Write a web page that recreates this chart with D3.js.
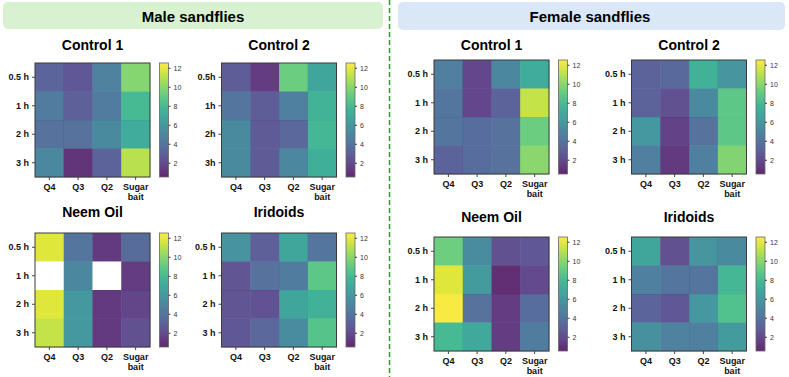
<!DOCTYPE html>
<html>
<head>
<meta charset="utf-8">
<script src="https://cdn.jsdelivr.net/npm/d3@7"></script>
<style>
  body { margin: 0; background: #fff; }
  svg { display: block; font-family: 'Liberation Sans', Arial, sans-serif; }
</style>
</head>
<body>
<script>
// rows = time, columns = position
const rowsSpaced = ['0.5 h', '1 h', '2 h', '3 h'];
const rowsTight = ['0.5h', '1h', '2h', '3h'];
const cols = ['Q4', 'Q3', 'Q2', 'Sugar bait'];
const cbTicks = [2, 4, 6, 8, 10, 12];

const maleControl1 = [
  [3.2, 2.6, 4.7, 9.9],
  [4.3, 2.9, 4.3, 8.0],
  [3.8, 3.8, 5.2, 7.2],
  [5.0, 1.0, 3.0, 11.0],
];
const maleControl2 = [
  [2.8, 1.3, 9.2, 6.8],
  [4.0, 2.8, 4.6, 7.6],
  [5.2, 2.7, 3.3, 7.8],
  [5.2, 2.7, 5.0, 7.3],
];
const maleNeem = [
  [11.8, 4.0, 1.2, 3.5],
  [null, 5.0, null, 1.3],
  [11.8, 6.0, 1.2, 1.7],
  [11.2, 6.0, 1.2, 2.2],
];
const maleIridoids = [
  [5.7, 2.9, 6.8, 4.0],
  [2.4, 3.8, 4.4, 8.8],
  [2.4, 2.3, 6.8, 7.5],
  [2.6, 3.3, 5.3, 8.6],
];
const femaleControl1 = [
  [4.5, 1.8, 5.0, 7.2],
  [4.0, 1.8, 3.0, 11.2],
  [4.0, 3.6, 3.8, 9.2],
  [3.0, 3.6, 3.8, 10.0],
];
const femaleControl2 = [
  [3.0, 3.4, 7.5, 5.8],
  [3.0, 2.2, 5.2, 8.8],
  [6.0, 1.6, 3.8, 8.8],
  [4.5, 1.2, 4.6, 9.8],
];
const femaleNeem = [
  [9.3, 5.3, 2.2, 2.6],
  [11.8, 6.2, 0.8, 1.9],
  [12.4, 3.8, 1.3, 3.6],
  [8.0, 7.0, 1.3, 4.4],
];
const femaleIridoids = [
  [6.8, 2.2, 5.8, 5.2],
  [4.6, 4.0, 4.0, 7.8],
  [3.2, 2.6, 6.0, 8.4],
  [5.6, 4.7, 4.6, 6.2],
];

const W = 789, H = 377;
const hmW = 115, hmH = 114, cbW = 9;

const panels = [
  {title: 'Control 1', data: maleControl1, rows: rowsSpaced, x: 35, y: 63, ty: 50},
  {title: 'Control 2', data: maleControl2, rows: rowsTight, x: 221.5, y: 63, ty: 50},
  {title: 'Neem Oil', data: maleNeem, rows: rowsSpaced, x: 35, y: 233, ty: 217},
  {title: 'Iridoids', data: maleIridoids, rows: rowsSpaced, x: 221.5, y: 233, ty: 217},
  {title: 'Control 1', data: femaleControl1, rows: rowsSpaced, x: 434, y: 60, ty: 50},
  {title: 'Control 2', data: femaleControl2, rows: rowsSpaced, x: 631.5, y: 60, ty: 50},
  {title: 'Neem Oil', data: femaleNeem, rows: rowsSpaced, x: 434, y: 237, ty: 222},
  {title: 'Iridoids', data: femaleIridoids, rows: rowsSpaced, x: 631.5, y: 237, ty: 222},
];

const color = d3.scaleSequential(d3.interpolateViridis).domain([0.5, 12.5]);
const cellOpacity = 0.85;

const svg = d3.select('body').append('svg')
  .attr('width', W)
  .attr('height', H);

// gradient for colorbars
const grad = svg.append('defs').append('linearGradient')
  .attr('id', 'cbar')
  .attr('x1', 0).attr('y1', 1).attr('x2', 0).attr('y2', 0);
d3.range(0, 1.0001, 0.1).forEach((t) => {
  grad.append('stop').attr('offset', t).attr('stop-color', d3.interpolateViridis(t));
});

// banners
svg.append('rect')
  .attr('x', 3).attr('y', 2).attr('width', 380).attr('height', 27)
  .attr('rx', 5).attr('fill', '#d8f1d0');
svg.append('text')
  .attr('x', 193).attr('y', 21.5)
  .attr('text-anchor', 'middle')
  .style('font-size', '15px').style('font-weight', 'bold')
  .text('Male sandflies');

svg.append('rect')
  .attr('x', 398).attr('y', 2).attr('width', 387).attr('height', 28)
  .attr('rx', 5).attr('fill', '#dae7f6');
svg.append('text')
  .attr('x', 590).attr('y', 22)
  .attr('text-anchor', 'middle')
  .style('font-size', '15px').style('font-weight', 'bold')
  .text('Female sandflies');

svg.append('line')
  .attr('x1', 389.5).attr('x2', 389.5)
  .attr('y1', 0).attr('y2', H)
  .attr('stroke', '#2f9a2f')
  .attr('stroke-width', 1.5)
  .attr('stroke-dasharray', '5,3');

panels.forEach((p) => {
  const g = svg.append('g');

  const x = d3.scaleBand().domain(cols).range([p.x, p.x + hmW]);
  const y = d3.scaleBand().domain(p.rows).range([p.y, p.y + hmH]);

  const cells = [];
  p.data.forEach((row, ri) => {
    row.forEach((v, ci) => cells.push({r: p.rows[ri], c: cols[ci], v}));
  });

  g.selectAll('rect.cell')
    .data(cells)
    .join('rect')
    .attr('class', 'cell')
    .attr('x', (d) => x(d.c))
    .attr('y', (d) => y(d.r))
    .attr('width', x.bandwidth() + 0.3)
    .attr('height', y.bandwidth() + 0.3)
    .attr('fill', (d) => d.v == null ? '#ffffff' : color(d.v))
    .attr('fill-opacity', cellOpacity);

  g.append('rect')
    .attr('x', p.x).attr('y', p.y)
    .attr('width', hmW).attr('height', hmH)
    .attr('fill', 'none')
    .attr('stroke', '#3a3a3a')
    .attr('stroke-width', 1);

  g.append('text')
    .attr('x', p.x + hmW / 2).attr('y', p.ty)
    .attr('text-anchor', 'middle')
    .style('font-size', '14px').style('font-weight', 'bold')
    .text(p.title);

  // y axis
  const ya = g.append('g')
    .attr('transform', `translate(${p.x},0)`)
    .call(d3.axisLeft(y).tickSize(3).tickPadding(3));
  ya.select('.domain').remove();
  ya.selectAll('text')
    .style('font-size', '9px').style('font-weight', 'bold')
    .style('font-family', "'Liberation Sans', Arial, sans-serif")
    .attr('fill', '#111');
  ya.selectAll('line').attr('stroke', '#444');

  // x axis, "Sugar bait" wrapped on two lines
  const xa = g.append('g')
    .attr('transform', `translate(0,${p.y + hmH})`)
    .call(d3.axisBottom(x).tickSize(3).tickPadding(4));
  xa.select('.domain').remove();
  xa.selectAll('line').attr('stroke', '#444');
  xa.selectAll('text')
    .style('font-size', '9px').style('font-weight', 'bold')
    .style('font-family', "'Liberation Sans', Arial, sans-serif")
    .attr('fill', '#111')
    .each(function(d) {
      const t = d3.select(this);
      const words = d.split(' ');
      t.text(null);
      words.forEach((w, i) => {
        t.append('tspan').attr('x', 0).attr('dy', i === 0 ? '0.71em' : '1.08em').text(w);
      });
    });

  // colorbar
  const cx = p.x + hmW + 9.5;
  const cb = d3.scaleLinear().domain([0.5, 12.5]).range([p.y + hmH, p.y]);
  g.append('rect')
    .attr('x', cx).attr('y', p.y)
    .attr('width', cbW).attr('height', hmH)
    .attr('fill', 'url(#cbar)')
    .attr('fill-opacity', cellOpacity)
    .attr('stroke', '#666')
    .attr('stroke-width', 0.8);
  const ca = g.append('g')
    .attr('transform', `translate(${cx + cbW},0)`)
    .call(d3.axisRight(cb).tickValues(cbTicks).tickSize(2).tickPadding(3));
  ca.select('.domain').remove();
  ca.selectAll('line').attr('stroke', '#333');
  ca.selectAll('text')
    .style('font-size', '7px')
    .style('font-family', "'Liberation Sans', Arial, sans-serif")
    .attr('fill', '#333');
});
</script>
</body>
</html>
